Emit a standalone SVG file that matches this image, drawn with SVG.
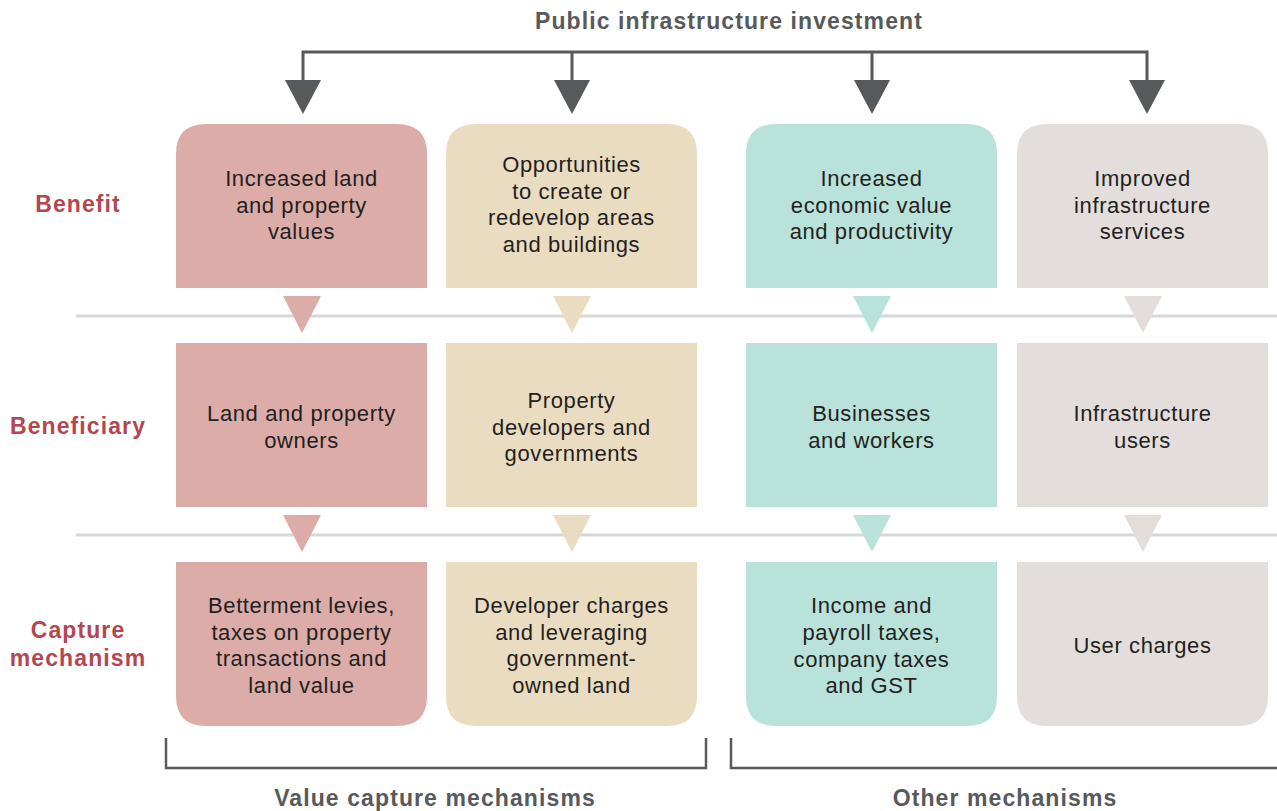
<svg xmlns="http://www.w3.org/2000/svg" width="1277" height="811" viewBox="0 0 1277 811">
<style>
.t{font-family:"Liberation Sans",Arial,sans-serif;font-size:22px;letter-spacing:0.6px;fill:#231f20;text-anchor:middle}
.h{font-family:"Liberation Sans",Arial,sans-serif;font-size:23px;letter-spacing:1.1px;font-weight:bold;fill:#58595b;text-anchor:middle}
.l{font-family:"Liberation Sans",Arial,sans-serif;font-size:23px;letter-spacing:1.1px;font-weight:bold;fill:#b5464f;text-anchor:middle}
.c1{fill:#dcaca9}.c2{fill:#eadcc1}.c3{fill:#b9e2da}.c4{fill:#e3dedb}
.div{stroke:#d6d8d8;stroke-width:3;fill:none}
.br{stroke:#58595b;stroke-width:2.5;fill:none}
</style>
<text class="h" x="729" y="29">Public infrastructure investment</text>
<g id="connectors">
<path d="M303 80V52H1147V80M572 52V80M872 52V80" stroke="#58595b" stroke-width="3" fill="none"/>
<polygon points="285,80 321,80 303,114" fill="#58595b"/>
<polygon points="554,80 590,80 572,114" fill="#58595b"/>
<polygon points="854,80 890,80 872,114" fill="#58595b"/>
<polygon points="1129,80 1165,80 1147,114" fill="#58595b"/>
<line class="div" x1="76" y1="316" x2="1277" y2="316"/>
<line class="div" x1="76" y1="535" x2="1277" y2="535"/>
<polygon class="c1" points="283,296 321,296 302,333"/>
<polygon class="c2" points="553,296 591,296 572,333"/>
<polygon class="c3" points="853,296 891,296 872,333"/>
<polygon class="c4" points="1124,296 1162,296 1143,333"/>
<polygon class="c1" points="283,515 321,515 302,552"/>
<polygon class="c2" points="553,515 591,515 572,552"/>
<polygon class="c3" points="853,515 891,515 872,552"/>
<polygon class="c4" points="1124,515 1162,515 1143,552"/>
<path class="br" d="M166 738V768H706V738"/>
<path class="br" d="M731 738V768H1277"/>
</g>
<g id="labels">
<text class="l" x="78" y="212">Benefit</text>
<text class="l" x="78" y="434">Beneficiary</text>
<text class="l" x="78" y="638">Capture</text>
<text class="l" x="78" y="666">mechanism</text>
</g>
<g id="benefit1"><path class="c1" d="M176 288V154Q176 124 206 124H397Q427 124 427 154V288Z"/>
<text class="t" x="301.5" y="186">Increased land</text><text class="t" x="301.5" y="213">and property</text><text class="t" x="301.5" y="239">values</text></g>
<g id="benefit2"><path class="c2" d="M446 288V154Q446 124 476 124H667Q697 124 697 154V288Z"/>
<text class="t" x="571.5" y="172">Opportunities</text><text class="t" x="571.5" y="199">to create or</text><text class="t" x="571.5" y="225">redevelop areas</text><text class="t" x="571.5" y="252">and buildings</text></g>
<g id="benefit3"><path class="c3" d="M746 288V154Q746 124 776 124H967Q997 124 997 154V288Z"/>
<text class="t" x="871.5" y="186">Increased</text><text class="t" x="871.5" y="213">economic value</text><text class="t" x="871.5" y="239">and productivity</text></g>
<g id="benefit4"><path class="c4" d="M1017 288V154Q1017 124 1047 124H1238Q1268 124 1268 154V288Z"/>
<text class="t" x="1142.5" y="186">Improved</text><text class="t" x="1142.5" y="213">infrastructure</text><text class="t" x="1142.5" y="239">services</text></g>
<g id="beneficiary1"><rect class="c1" x="176" y="343" width="251" height="164"/>
<text class="t" x="301.5" y="421">Land and property</text><text class="t" x="301.5" y="448">owners</text></g>
<g id="beneficiary2"><rect class="c2" x="446" y="343" width="251" height="164"/>
<text class="t" x="571.5" y="408">Property</text><text class="t" x="571.5" y="435">developers and</text><text class="t" x="571.5" y="461">governments</text></g>
<g id="beneficiary3"><rect class="c3" x="746" y="343" width="251" height="164"/>
<text class="t" x="871.5" y="421">Businesses</text><text class="t" x="871.5" y="448">and workers</text></g>
<g id="beneficiary4"><rect class="c4" x="1017" y="343" width="251" height="164"/>
<text class="t" x="1142.5" y="421">Infrastructure</text><text class="t" x="1142.5" y="448">users</text></g>
<g id="capture1"><path class="c1" d="M176 562H427V696Q427 726 397 726H206Q176 726 176 696Z"/>
<text class="t" x="301.5" y="613">Betterment levies,</text><text class="t" x="301.5" y="640">taxes on property</text><text class="t" x="301.5" y="666">transactions and</text><text class="t" x="301.5" y="693">land value</text></g>
<g id="capture2"><path class="c2" d="M446 562H697V696Q697 726 667 726H476Q446 726 446 696Z"/>
<text class="t" x="571.5" y="613">Developer charges</text><text class="t" x="571.5" y="640">and leveraging</text><text class="t" x="571.5" y="666">government-</text><text class="t" x="571.5" y="693">owned land</text></g>
<g id="capture3"><path class="c3" d="M746 562H997V696Q997 726 967 726H776Q746 726 746 696Z"/>
<text class="t" x="871.5" y="613">Income and</text><text class="t" x="871.5" y="640">payroll taxes,</text><text class="t" x="871.5" y="667">company taxes</text><text class="t" x="871.5" y="693">and GST</text></g>
<g id="capture4"><path class="c4" d="M1017 562H1268V696Q1268 726 1238 726H1047Q1017 726 1017 696Z"/>
<text class="t" x="1142.5" y="653">User charges</text></g>
<text class="h" x="435" y="806">Value capture mechanisms</text>
<text class="h" x="1005" y="806">Other mechanisms</text>
</svg>
